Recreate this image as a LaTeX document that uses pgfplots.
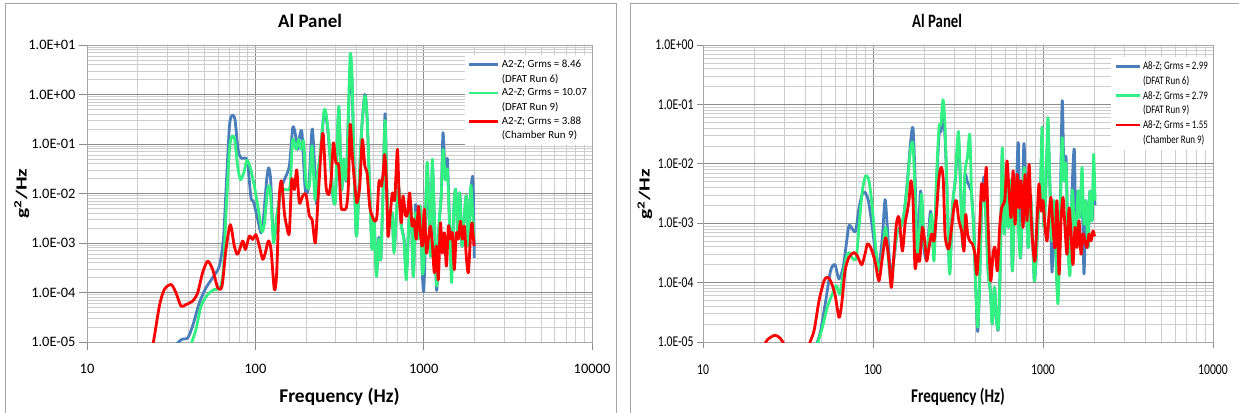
\documentclass[border=0pt]{standalone}
\usepackage{fontspec}
\setmainfont{Carlito}
\newfontfamily\condfont[FakeStretch=0.78]{Carlito}
\usepackage{graphicx}
\usepackage{pgfplots}
\pgfplotsset{compat=1.18}
\definecolor{cblue}{RGB}{74,126,187}
\definecolor{cgreen}{RGB}{50,240,130}
\definecolor{cred}{RGB}{255,0,0}
\definecolor{framec}{RGB}{165,165,165}
\definecolor{majgrid}{RGB}{140,140,140}
\definecolor{mingrid}{RGB}{205,205,205}
\begin{document}
\begin{tikzpicture}
\useasboundingbox (0,0) rectangle (1239bp,413bp);
\fill[white] (0,0) rectangle (1239bp,413bp);
\draw[framec, line width=1bp] (5.5bp,-10bp) rectangle (616bp,409.5bp);
\draw[framec, line width=1bp] (630bp,-10bp) rectangle (1260bp,409.5bp);

% ---------------- LEFT CHART ----------------
\begin{axis}[scale only axis, anchor=south west, at={(87bp,71bp)}, width=505bp, height=297bp,
  xmode=log, ymode=log, xmin=10, xmax=10000, ymin=1e-5, ymax=10,
  xtick={10,100,1000,10000}, xticklabels={10,100,1000,10000},
  minor xtick={20,30,40,50,60,70,80,90,200,300,400,500,600,700,800,900,2000,3000,4000,5000,6000,7000,8000,9000},
  ytick={1e-5,1e-4,1e-3,1e-2,1e-1,1,10},
  yticklabels={1.0E-05,1.0E-04,1.0E-03,1.0E-02,1.0E-01,1.0E+00,1.0E+01},
  minor ytick={2e-5,3e-5,4e-5,5e-5,6e-5,7e-5,8e-5,9e-5,2e-4,3e-4,4e-4,5e-4,6e-4,7e-4,8e-4,9e-4,2e-3,3e-3,4e-3,5e-3,6e-3,7e-3,8e-3,9e-3,2e-2,3e-2,4e-2,5e-2,6e-2,7e-2,8e-2,9e-2,0.2,0.3,0.4,0.5,0.6,0.7,0.8,0.9,2,3,4,5,6,7,8,9},
  grid=both,
  major grid style={majgrid, line width=0.7bp},
  minor grid style={mingrid, line width=0.7bp},
  axis line style={framec, line width=0.8bp},
  tick style={majgrid, line width=0.8bp},
  tick align=outside, xtick pos=bottom, ytick pos=left,
  major tick length=8bp, minor tick length=0bp,
  tick label style={font=\fontsize{14.5}{16}\selectfont},
  xticklabel style={yshift=-11bp},
  xlabel={Frequency (Hz)}, ylabel={\scalebox{1.4}[1]{g\textsuperscript{2}/Hz}}, title={Al Panel},
  title style={font=\fontsize{19}{22}\selectfont\bfseries, at={(0.4416,1.0606)}, anchor=center},
  xlabel style={font=\fontsize{19.5}{22}\selectfont\bfseries, at={(0.5,-0.185)}, anchor=center},
  ylabel style={font=\fontsize{15.5}{18}\selectfont\bfseries, at={(-0.129,0.5)}, anchor=center},
  legend cell align=left,
  legend style={draw=none, fill=white, inner xsep=3bp, inner ysep=3bp, row sep=1bp,
     at={(1,0.966)}, anchor=north east, font=\fontsize{11}{12.5}\selectfont},
  legend image code/.code={\draw[#1] (0bp,0bp) -- (29bp,0bp);},
  every axis plot/.append style={line width=2.8bp, line join=round, smooth, tension=0.45},
]
\addplot[cblue] coordinates {
(34,9e-6)(35.5,1.05e-5)(37,1.15e-5)(39.6,1.2e-5)(42.4,2.1e-5)(46.5,6.2e-5)(50.9,1.24e-4)(55.8,2e-4)(61.1,3.4e-4)(64.6,1.2e-3)(67,1.2e-2)(70.2,0.23)(72.7,0.38)(75.7,0.31)(78.9,0.078)(82.2,0.052)(87.3,0.052)(90,0.042)(94.2,8.2e-3)(97.3,7e-3)(103.3,3e-3)(108.1,1.6e-3)(111.6,3e-3)(116.8,1.9e-2)(120,3.3e-2)(123.3,1.9e-2)(126.8,2.2e-3)(129.7,1.2e-3)(135.8,4.1e-3)(142,1.2e-2)(148.7,1.9e-2)(159.2,3.6e-2)(166.7,0.21)(172.2,0.17)(178.4,0.078)(182.5,0.133)(189.2,0.17)(198,1.2e-2)(207.5,1.4e-2)(217.3,0.2)(224,4.9e-2)(231,6e-3)(236,0.026)(242,0.05)(257,0.45)(269,0.2)(282,0.028)(290,8e-3)(299,8e-3)(313,0.5)(325,0.012)(335,0.05)(347,0.018)(357,0.35)(366,3)(375,2)(385,0.05)(398,1.4e-3)(411,8.9e-3)(427,0.17)(447,1.0)(461,0.36)(478,0.012)(493,8e-4)(507,3e-3)(524,2.5e-4)(541,1.3e-3)(556,4.7e-4)(574,0.012)(590,0.41)(606,8.9e-3)(628,2.2e-3)(649,4.1e-3)(667,7e-4)(689,4.1e-3)(710,0.014)(736,2.2e-3)(763,1.3e-3)(789,2.5e-4)(815,2.2e-3)(841,5.5e-3)(868,2.1e-4)(896,6e-3)(925,1.2e-3)(956,5.5e-3)(982,2.5e-4)(1000,1.05e-4)(1020,6.3e-4)(1047,0.03)(1076,5.5e-3)(1101,5.4e-4)(1125,0.035)(1161,2.2e-3)(1195,1.1e-4)(1234,2.2e-3)(1274,0.0103)(1303,0.17)(1345,0.019)(1383,0.05)(1426,2.2e-3)(1466,2.6e-4)(1507,4.1e-3)(1549,0.012)(1600,1.2e-3)(1637,0.0103)(1690,8.7e-4)(1738,3e-3)(1795,8.9e-3)(1843,8.7e-4)(1903,0.01)(1963,0.02)(2000,5e-4)
};
\addlegendentry{A2-Z; Grms = 8.46}
\addlegendimage{empty legend}\addlegendentry{(DFAT Run 6)}
\addplot[cgreen] coordinates {
(41.5,9e-6)(44.4,1.8e-5)(47.6,5.3e-5)(52.1,9.1e-5)(57,1.15e-4)(61.7,1.24e-4)(64.6,2.9e-4)(67,4.1e-3)(70.2,0.078)(72.7,0.144)(75.4,0.123)(78.5,0.036)(81.5,0.019)(85.3,0.026)(89.2,0.047)(93.4,0.033)(98.7,0.014)(104.2,4.8e-3)(109.1,1.74e-3)(113,2.35e-3)(118.4,0.012)(122.2,0.0129)(125.6,3e-3)(128.5,1e-3)(133.9,3.5e-3)(142,0.011)(152,0.012)(160.7,0.014)(166.7,0.123)(174.6,0.078)(180.9,0.123)(186.7,0.078)(193.6,0.114)(200,0.0165)(209.5,0.014)(217.3,0.091)(226,7.6e-3)(234.5,0.026)(242,0.057)(257,0.5)(269,0.23)(282,0.03)(290,8.5e-3)(299,7.6e-3)(313,0.58)(325,0.012)(335,0.05)(347,0.019)(357,0.4)(366,6.4)(375,2.7)(385,0.05)(398,1.38e-3)(411,8.9e-3)(427,0.17)(447,0.93)(461,0.36)(478,0.012)(493,7.4e-4)(507,3e-3)(524,2.1e-4)(541,1.2e-3)(556,4.7e-4)(574,0.012)(590,0.3)(606,8.9e-3)(628,2.2e-3)(649,4.1e-3)(667,6.3e-4)(689,4.1e-3)(710,0.014)(736,2.2e-3)(763,1.2e-3)(789,1.8e-4)(815,2.2e-3)(841,5.5e-3)(868,2.1e-4)(896,4.1e-3)(925,1.2e-3)(956,5.5e-3)(982,2.5e-4)(1009,6.3e-4)(1047,0.042)(1076,5.5e-3)(1101,5.4e-4)(1125,0.049)(1161,2.2e-3)(1195,1.35e-4)(1234,2.2e-3)(1274,0.0103)(1303,0.078)(1345,0.019)(1383,0.03)(1426,2.2e-3)(1466,1.58e-4)(1507,4.1e-3)(1549,0.012)(1600,1.2e-3)(1637,0.0103)(1690,8.7e-4)(1738,3e-3)(1795,8.9e-3)(1843,8.7e-4)(1903,0.014)(1946,5.5e-3)(1991,1.2e-3)
};
\addlegendentry{A2-Z; Grms = 10.07}
\addlegendimage{empty legend}\addlegendentry{(DFAT Run 9)}
\addplot[cred] coordinates {
(23.8,7e-6)(24.8,1e-5)(26.9,5.3e-5)(28.8,1.15e-4)(31.6,1.45e-4)(33.8,9.8e-5)(36.2,5.3e-5)(38.7,5.7e-5)(42.4,6.7e-5)(45.4,9.8e-5)(48.6,2.5e-4)(52.1,4.3e-4)(55.8,2.9e-4)(59.8,1.24e-4)(63.4,1.35e-4)(66.9,7.4e-4)(71,2.35e-3)(75,8.7e-4)(78.5,5.9e-4)(84.1,1.1e-3)(87.3,7.4e-4)(92.1,1.38e-3)(96.4,1.18e-3)(100.9,1.48e-3)(105.6,8.7e-4)(110.6,4.7e-4)(114.6,6.3e-4)(119.5,1.1e-3)(123.9,7.4e-4)(129.7,1.15e-4)(133.9,2.5e-4)(138.9,8.9e-3)(143.3,1.78e-2)(148.7,4.1e-3)(153.5,2.2e-3)(159.2,1.6e-3)(164.4,1.9e-2)(170.6,1.2e-2)(176.2,3e-2)(182.5,6.5e-3)(191.1,8.9e-3)(200,9.5e-3)(209.5,3.5e-3)(217.3,3e-3)(227,1e-3)(234.5,5.5e-3)(245.5,0.072)(253,0.16)(263,0.014)(273,9.5e-3)(282,0.019)(291,0.105)(301,0.042)(313,0.036)(323,5.5e-3)(333,4.8e-3)(347,5.1e-3)(357,0.014)(366,0.25)(377,0.057)(389,0.0165)(401,6.5e-3)(417,0.014)(432,0.123)(447,0.036)(461,0.026)(478,5.5e-3)(495,3.5e-3)(512,2.75e-3)(528,3.5e-3)(543,0.0178)(561,0.014)(574,0.026)(587,0.061)(600,0.019)(614,1.38e-3)(634,4.1e-3)(652,0.0103)(673,7.6e-3)(698,0.078)(714,0.0103)(736,2.55e-3)(754,8.9e-3)(782,3.5e-3)(803,4.1e-3)(826,0.0103)(853,2.2e-3)(877,3e-3)(904,1.2e-3)(930,5.5e-3)(956,1.6e-3)(982,8.7e-4)(1009,4.8e-3)(1038,6.3e-4)(1066,1.2e-3)(1096,2.2e-3)(1125,1e-3)(1157,2.5e-4)(1189,8.7e-4)(1222,1.8e-4)(1257,2.55e-3)(1291,6.3e-4)(1327,1.6e-3)(1365,3.4e-4)(1403,2.2e-3)(1440,1.2e-3)(1480,1.6e-3)(1521,2.9e-4)(1563,1.6e-3)(1607,1.2e-3)(1652,2.75e-3)(1698,1.2e-3)(1746,2.2e-3)(1791,5.4e-4)(1843,2.5e-4)(1894,1.2e-3)(1938,2.55e-3)(1991,8.7e-4)
};
\addlegendentry{A2-Z; Grms = 3.88}
\addlegendimage{empty legend}\addlegendentry{(Chamber Run 9)}
\end{axis}

% ---------------- RIGHT CHART ----------------
\begin{axis}[scale only axis, anchor=south west, at={(703bp,71bp)}, width=510bp, height=297bp,
  xmode=log, ymode=log, xmin=10, xmax=10000, ymin=1e-5, ymax=1,
  xtick={10,100,1000,10000}, xticklabels={10,100,1000,10000},
  minor xtick={20,30,40,50,60,70,80,90,200,300,400,500,600,700,800,900,2000,3000,4000,5000,6000,7000,8000,9000},
  ytick={1e-5,1e-4,1e-3,1e-2,1e-1,1},
  yticklabels={1.0E-05,1.0E-04,1.0E-03,1.0E-02,1.0E-01,1.0E+00},
  minor ytick={2e-5,3e-5,4e-5,5e-5,6e-5,7e-5,8e-5,9e-5,2e-4,3e-4,4e-4,5e-4,6e-4,7e-4,8e-4,9e-4,2e-3,3e-3,4e-3,5e-3,6e-3,7e-3,8e-3,9e-3,2e-2,3e-2,4e-2,5e-2,6e-2,7e-2,8e-2,9e-2,0.2,0.3,0.4,0.5,0.6,0.7,0.8,0.9},
  grid=both,
  major grid style={majgrid, line width=0.7bp},
  minor grid style={mingrid, line width=0.7bp},
  axis line style={framec, line width=0.8bp},
  tick style={majgrid, line width=0.8bp},
  tick align=outside, xtick pos=bottom, ytick pos=left,
  major tick length=6bp, minor tick length=0bp,
  tick label style={font=\condfont\fontsize{15}{16}\selectfont},
  xticklabel style={yshift=-13bp},
  xlabel={Frequency (Hz)}, ylabel={\scalebox{1.4}[1]{g\textsuperscript{2}/Hz}}, title={Al Panel},
  title style={font=\condfont\fontsize{19}{22}\selectfont\bfseries, at={(0.459,1.0606)}, anchor=center},
  xlabel style={font=\condfont\fontsize{19.5}{22}\selectfont\bfseries, at={(0.5,-0.185)}, anchor=center},
  ylabel style={font=\fontsize{15.5}{18}\selectfont\bfseries, at={(-0.114,0.497)}, anchor=center},
  legend cell align=left,
  legend style={draw=none, fill=white, inner xsep=3bp, inner ysep=3bp, row sep=1bp,
     at={(1,0.96)}, anchor=north east, font=\condfont\fontsize{11.5}{13}\selectfont},
  legend image code/.code={\draw[#1] (0bp,0bp) -- (24bp,0bp);},
  every axis plot/.append style={line width=2.8bp, line join=round, smooth, tension=0.45},
]
\addplot[cblue] coordinates {
(46.5,9e-6)(49.2,1.55e-5)(52.7,4.9e-5)(56.3,1.58e-4)(59.7,2e-4)(63.1,1.15e-4)(66.7,1.8e-4)(69.7,4.5e-4)(72.2,9.1e-4)(75.6,8e-4)(79.1,7.4e-4)(82.7,1.8e-3)(86.5,3.1e-3)(89.7,3.3e-3)(93.9,2.4e-3)(99.1,8.5e-4)(103.7,3e-4)(108.4,2e-4)(113.5,5.7e-4)(117.7,2.5e-3)(121.4,8.5e-4)(127,1.38e-4)(132.9,2.66e-4)(139,7.4e-4)(145.5,8.5e-4)(152,1.4e-3)(159.2,5e-3)(166.6,2.4e-2)(171.9,4e-2)(176.6,6.6e-3)(182.3,3e-4)(190.5,3.5e-3)(197,5e-4)(207,2.5e-4)(218,1.6e-3)(228.5,3e-4)(236,4e-3)(244.5,3e-2)(251,3.5e-2)(258,0.06)(265,3e-2)(273.8,2.4e-3)(282.5,1.5e-4)(293,1.8e-3)(304,5e-3)(318,2.5e-2)(328,3.5e-3)(338,4e-4)(347,6e-3)(359,5e-3)(371,4e-3)(380,3.1e-3)(391,8.5e-4)(402,8.3e-5)(413,1.5e-5)(424,1.07e-4)(435,1.8e-3)(450,6e-3)(464,8.5e-4)(476,1.5e-4)(492,6.4e-5)(503,2e-5)(518,8.3e-5)(531,2.6e-5)(546,1.7e-5)(561,2.3e-4)(576,1.5e-2)(593,6.6e-4)(609,6.6e-3)(625,8.5e-4)(643,5.2e-3)(660,1.58e-4)(678,1.8e-3)(697,4e-3)(716,2.2e-2)(736,2.66e-4)(755,1.8e-3)(773,2.2e-2)(798,1.8e-3)(820,3.9e-4)(842,3.1e-3)(865,8.5e-4)(889,1.07e-4)(914,3e-4)(939,1.4e-3)(965,3.1e-3)(987,2e-2)(1013,8.5e-4)(1042,5.2e-3)(1070,3e-2)(1100,3.5e-3)(1130,1.5e-4)(1161,2.4e-3)(1192,2.66e-4)(1225,6e-5)(1259,8.5e-4)(1297,0.115)(1330,5.2e-3)(1366,1.3e-2)(1404,3.9e-4)(1442,2e-4)(1482,3.5e-3)(1528,1.74e-2)(1563,5e-4)(1607,3.5e-3)(1651,1.25e-3)(1696,5e-3)(1742,1.4e-4)(1790,2.4e-3)(1839,3.9e-4)(1889,3.5e-3)(1941,1.1e-3)(1985,4e-3)(2023,2e-3)
};
\addlegendentry{A8-Z; Grms = 2.99}
\addlegendimage{empty legend}\addlegendentry{(DFAT Run 6)}
\addplot[cgreen] coordinates {
(47,9e-6)(50.4,1.78e-5)(53.8,3.8e-5)(57.6,6.4e-5)(60.9,8.9e-5)(63.7,6.4e-5)(66.7,1.38e-4)(69.7,2.66e-4)(72.2,3.2e-4)(76.3,2.5e-4)(79.8,2.66e-4)(82.7,8.5e-4)(86.5,3.5e-3)(90.6,6.3e-3)(94.7,5.2e-3)(99.1,1.8e-3)(103.7,3.9e-4)(108.4,1.58e-4)(113.5,3e-4)(118.8,8.5e-4)(124.2,1.8e-4)(128.2,9.3e-5)(132.9,2.66e-4)(139,7.4e-4)(145.5,8.5e-4)(152,1.4e-3)(159.2,4.6e-3)(166.6,1.86e-2)(171.9,2.1e-2)(176.6,3.5e-3)(182.3,2.3e-4)(188.2,8.5e-4)(193.3,3.1e-3)(199.5,5e-4)(207,3e-4)(213.5,6.6e-4)(221.4,1.4e-3)(228.5,2.3e-4)(236,5.2e-3)(244.5,4.1e-2)(251,4.6e-2)(258,0.12)(265,4.6e-2)(273.8,2.4e-3)(282.5,1.38e-4)(293,1.8e-3)(304,5.2e-3)(318,3.5e-2)(328,3.5e-3)(338,3.9e-4)(347,6.6e-3)(359,1.26e-2)(371,3.1e-2)(380,3.1e-3)(391,8.5e-4)(402,8.3e-5)(413,1.78e-5)(424,1.07e-4)(435,1.8e-3)(450,4e-3)(464,8.5e-4)(476,1.38e-4)(492,6.4e-5)(503,2e-5)(518,8.3e-5)(531,2.6e-5)(546,1.78e-5)(561,2.3e-4)(576,1.86e-2)(593,6.6e-4)(609,6.6e-3)(625,8.5e-4)(643,5.2e-3)(660,1.58e-4)(678,1.8e-3)(697,4e-3)(716,8.5e-4)(736,2.66e-4)(755,1.8e-3)(776,8.7e-3)(798,1.8e-3)(820,3.9e-4)(842,3.1e-3)(865,8.5e-4)(889,1.07e-4)(914,3e-4)(939,1.4e-3)(965,3.1e-3)(987,4.1e-2)(1013,8.5e-4)(1042,5.2e-3)(1070,6e-2)(1100,3.5e-3)(1130,5e-4)(1161,2.4e-3)(1192,2.66e-4)(1225,4.4e-5)(1259,8.5e-4)(1294,2.75e-2)(1330,5.2e-3)(1366,9.8e-3)(1404,3.9e-4)(1442,1.38e-4)(1482,3.5e-3)(1521,1.25e-3)(1563,5e-4)(1607,3.5e-3)(1651,1.25e-3)(1696,8.7e-3)(1742,9.6e-4)(1790,2.4e-3)(1839,3.9e-4)(1889,3.5e-3)(1941,1.1e-3)(1985,1.44e-2)(2023,2.4e-3)
};
\addlegendentry{A8-Z; Grms = 2.79}
\addlegendimage{empty legend}\addlegendentry{(DFAT Run 9)}
\addplot[cred] coordinates {
(22.5,8e-6)(24,1.1e-5)(26.5,1.3e-5)(28.5,1.15e-5)(30.5,8e-6)(36,2e-6)(42.1,9e-6)(45,1.55e-5)(48.1,4.9e-5)(51.5,1.07e-4)(53.8,1.23e-4)(56.3,1.07e-4)(59.7,6.4e-5)(63.1,2.6e-5)(65.4,4.3e-5)(68.5,1.58e-4)(72.2,2.66e-4)(77.3,3.2e-4)(80.9,2.8e-4)(85.8,2e-4)(89.7,3e-4)(92.7,4.5e-4)(96.9,3.9e-4)(102.7,2.3e-4)(108.4,1.07e-4)(113.5,2.66e-4)(118.8,5.7e-4)(124.2,2.3e-4)(128.2,8.3e-5)(132.9,3e-4)(137.2,9.6e-4)(142.2,1.25e-3)(148.8,3.4e-4)(154.3,9.6e-4)(159.2,1.6e-3)(162.8,2.4e-3)(167.3,5.2e-3)(171.9,2.4e-3)(176.6,1.8e-4)(182.3,3e-4)(188.2,2.3e-4)(195.2,8.5e-4)(201.4,5e-4)(207,2.3e-4)(213.5,3.9e-4)(221.4,6.6e-4)(228.5,5e-4)(236,1.4e-3)(244.5,5.9e-3)(252.4,8.7e-3)(259.2,5.2e-3)(265.2,6.6e-4)(273.8,3.9e-4)(280,3.9e-4)(290,8.5e-4)(299,1.8e-3)(309,2.4e-3)(320,1.1e-3)(332,7.4e-4)(343,3.4e-4)(351,1.4e-3)(360,6.6e-4)(371,5e-4)(384,4.5e-4)(398,3e-4)(409,1.38e-4)(424,8.5e-4)(435,4.6e-3)(450,2.4e-3)(464,8.7e-3)(476,8.5e-4)(492,1.07e-4)(508,3e-4)(522,3.9e-4)(539,1.58e-4)(556,8.5e-4)(571,1.8e-3)(585,2.1e-3)(598,2.7e-3)(614,1.12e-2)(631,3.5e-3)(649,1.25e-3)(667,7.6e-3)(685,9.6e-4)(704,6.6e-3)(723,1.8e-3)(743,5.2e-3)(763,8.5e-4)(784,6.6e-3)(805,1.1e-3)(828,9.8e-3)(850,1.4e-3)(873,3.9e-4)(897,2.3e-4)(922,1.1e-3)(947,4.6e-3)(973,1.6e-3)(1000,2.4e-3)(1028,8.5e-4)(1056,5e-4)(1085,1.4e-3)(1114,2.7e-3)(1145,8.5e-4)(1177,3.9e-4)(1208,2.4e-3)(1242,1.38e-4)(1276,1.1e-3)(1312,2.7e-3)(1347,8.5e-4)(1384,3e-4)(1422,1.8e-3)(1462,6.6e-4)(1501,2e-4)(1542,8.5e-4)(1585,3.9e-4)(1628,1.1e-3)(1673,3e-4)(1719,6.6e-4)(1766,5e-4)(1815,3.9e-4)(1865,6.6e-4)(1915,5e-4)(1968,7.4e-4)(2010,6e-4)
};
\addlegendentry{A8-Z; Grms = 1.55}
\addlegendimage{empty legend}\addlegendentry{(Chamber Run 9)}
\end{axis}
\end{tikzpicture}
\end{document}
